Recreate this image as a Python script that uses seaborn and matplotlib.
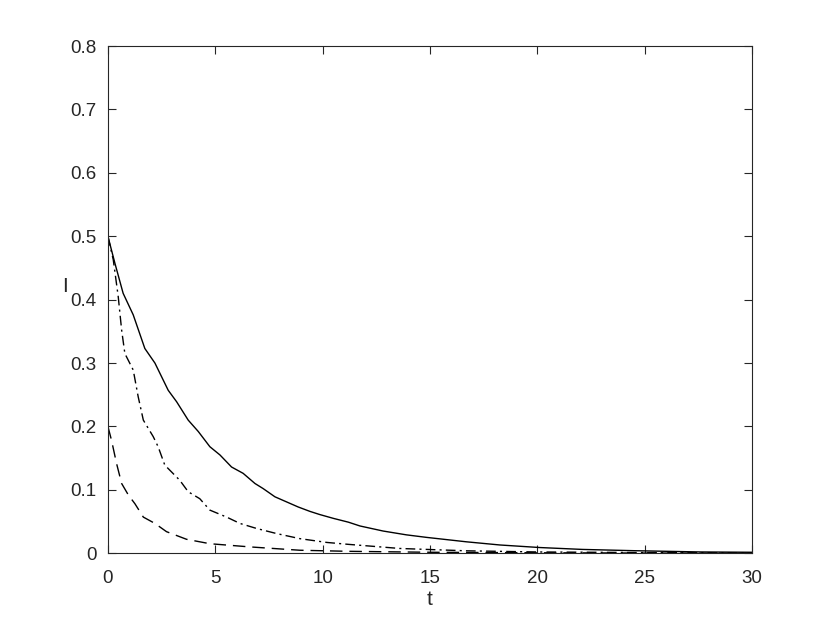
import numpy as np
import pandas as pd
import seaborn as sns
import matplotlib
matplotlib.use("Agg")
import matplotlib.pyplot as plt

# solid curve
t_solid = [0, 0.33, 0.71, 1.18, 1.72, 2.19, 2.81, 3.2, 3.74, 4.21, 4.75, 5.22,
           5.76, 6.3, 6.85, 7.23, 7.78, 8.32, 8.86, 9.41, 9.87, 10.5, 11.2,
           11.74, 12.82, 13.9, 14.84, 16.7, 18.26, 20.1, 22.1, 24.5, 27.6, 30]
I_solid = [0.5, 0.457, 0.41, 0.376, 0.323, 0.3, 0.257, 0.239, 0.21, 0.192,
           0.168, 0.155, 0.136, 0.126, 0.11, 0.102, 0.089, 0.081, 0.073, 0.066,
           0.061, 0.055, 0.049, 0.043, 0.035, 0.029, 0.025, 0.018, 0.013,
           0.009, 0.006, 0.004, 0.002, 0.0015]

# dash-dot curve
t_dashdot = [0, 0.25, 0.48, 0.64, 0.79, 1.18, 1.41, 1.65, 2.11, 2.34, 2.65,
             3.35, 3.74, 4.28, 4.75, 5.53, 6.15, 6.93, 7.86, 8.94, 10.2, 11.2,
             13.6, 16.7, 20, 25, 30]
I_dashdot = [0.5, 0.463, 0.405, 0.352, 0.315, 0.289, 0.247, 0.21, 0.184,
             0.168, 0.139, 0.115, 0.097, 0.086, 0.068, 0.057, 0.047, 0.039,
             0.031, 0.023, 0.017, 0.014, 0.0075, 0.0038, 0.002, 0.001, 0.0005]

# dashed curve
t_dashed = [0, 0.17, 0.4, 0.64, 0.95, 1.26, 1.65, 2.19, 2.73, 3.66, 4.75,
            6.6, 8.94, 11.2, 15, 20, 25, 30]
I_dashed = [0.2, 0.178, 0.142, 0.11, 0.092, 0.078, 0.057, 0.047, 0.034,
            0.022, 0.015, 0.01, 0.0047, 0.003, 0.0015, 0.0007, 0.0003, 0.0001]

x_ticks = [0, 5, 10, 15, 20, 25, 30]
y_ticks = [0, 0.1, 0.2, 0.3, 0.4, 0.5, 0.6, 0.7, 0.8]

sns.set_style("ticks")
plt.rcParams["font.family"] = ["Liberation Sans", "DejaVu Sans"]
plt.rcParams["font.size"] = 13.5

fig = plt.figure(figsize=(8.3, 6.23), dpi=100)
ax = fig.add_axes([0.13, 0.112, 0.776, 0.814])

sns.lineplot(x=t_solid, y=I_solid, ax=ax, color="black", linewidth=1.0,
             linestyle="-")
sns.lineplot(x=t_dashdot, y=I_dashdot, ax=ax, color="black", linewidth=1.0,
             dashes=False, linestyle=(0, (7, 3, 1.5, 3)))
sns.lineplot(x=t_dashed, y=I_dashed, ax=ax, color="black", linewidth=1.0,
             linestyle=(0, (9, 5)))

ax.set_xlim(0, 30)
ax.set_ylim(0, 0.8)
ax.set_xticks(x_ticks)
ax.set_xticklabels([str(v) for v in x_ticks])
ax.set_yticks(y_ticks)
ax.set_yticklabels(["0"] + [f"{v:.1f}" for v in y_ticks[1:]])

axcol = "#262626"
for sp in ax.spines.values():
    sp.set_visible(True)
    sp.set_color(axcol)
    sp.set_linewidth(0.8)
ax.tick_params(direction="in", length=6, width=0.8, colors=axcol,
               top=True, right=True, labelsize=13.5)
ax.tick_params(axis="x", pad=12)
ax.tick_params(axis="y", pad=8)

ax.set_xlabel("t", fontsize=15, color=axcol, labelpad=2)
ax.set_ylabel("I", fontsize=15, color=axcol, rotation=0, va="center",
              ha="center")
ax.yaxis.set_label_coords(-0.067, 0.525)

fig.savefig("out.png", dpi=100)
